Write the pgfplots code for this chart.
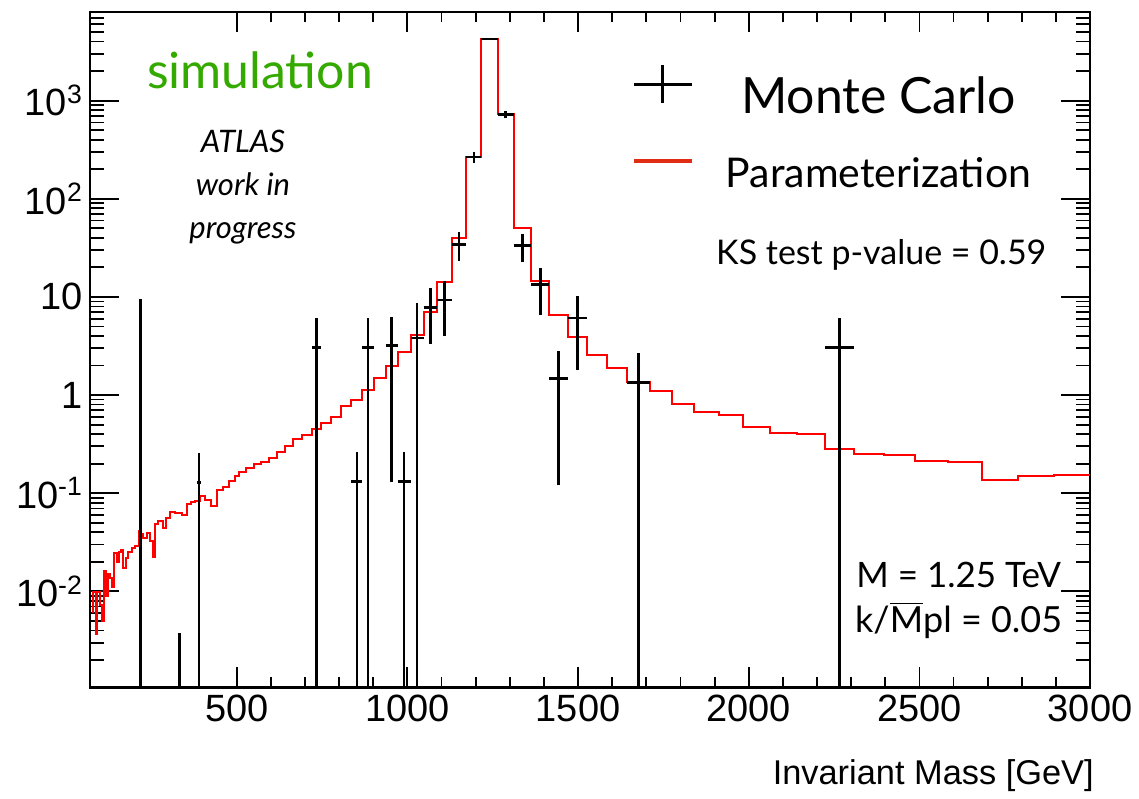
\documentclass[border=0pt]{standalone}
\usepackage{fontspec}
\setmainfont{Liberation Sans}
\newfontfamily\lato{Lato}
\usepackage{pgfplots}
\pgfplotsset{compat=1.18}
\usepackage{pgfplotstable}
\definecolor{simgreen}{RGB}{52,170,0}
\definecolor{legred}{RGB}{225,45,20}

% parameterization histogram: left bin edge, content
\pgfplotstableread{
x y
75 0.0062
79.8 0.0098
86.6 0.0037
91.5 0.0098
99.3 0.0073
106.1 0.005
111 0.0163
115.9 0.0089
121.7 0.0149
128.5 0.0137
135.4 0.011
141.2 0.0247
150 0.0198
154.9 0.025
159.8 0.0267
167.6 0.0173
174.4 0.0219
182.2 0.0253
192 0.0278
201.7 0.0289
214.4 0.041
219.3 0.038
226.1 0.0347
235.9 0.0395
245.6 0.0325
255.4 0.0223
260.3 0.0488
270 0.052
282.7 0.0444
292.5 0.056
304.2 0.0647
318.8 0.0623
338.3 0.0598
353 0.077
365.7 0.082
377.4 0.083
392 0.0935
406.6 0.0845
424.2 0.074
443.7 0.107
460.3 0.116
476.9 0.133
494.5 0.15
506 0.165
528 0.18
550 0.2
572 0.21
594 0.23
617 0.26
640 0.30
664 0.355
692.7 0.39
720.8 0.456
748.3 0.525
775.5 0.604
804.8 0.77
836.1 0.89
868.3 1.12
901.4 1.49
936.5 2.0
971.6 2.77
1009.7 4.13
1047.8 6.98
1086.7 14.1
1130.6 39.7
1172.8 267
1216.7 4230
1264.4 724
1311.2 50.7
1363 14.5
1415.7 6.6
1469.3 3.94
1527 2.54
1583.5 1.9
1643.8 1.36
1709.4 1.09
1773.8 0.82
1838.2 0.67
1913.4 0.62
1984.6 0.475
2062.7 0.41
2141.4 0.40
2224.3 0.285
2308 0.253
2396.7 0.244
2487.8 0.213
2584.6 0.206
2683.6 0.137
2787.5 0.15
2895 0.154
3000 0.154
}\histtable

% Monte Carlo: horizontal bars (bin extent at content)
\pgfplotstableread{
x y
215 4.75
223 4.75
nan nan
328 0.0019
338 0.0019
nan nan
383 0.128
395 0.128
nan nan
720.8 3.06
748.3 3.06
nan nan
836.1 0.131
868.3 0.131
nan nan
868.3 3.06
901.4 3.06
nan nan
936.5 3.18
971.6 3.18
nan nan
971.6 0.131
1009.7 0.131
nan nan
1009.7 3.82
1047.8 3.82
nan nan
1047.8 7.85
1086.7 7.85
nan nan
1086.7 9.33
1130.6 9.33
nan nan
1130.6 34.3
1172.8 34.3
nan nan
1172.8 267
1216.7 267
nan nan
1216.7 4230
1264.4 4230
nan nan
1264.4 718
1311.2 718
nan nan
1311.2 33.3
1363 33.3
nan nan
1363 13.4
1415.7 13.4
nan nan
1415.7 1.47
1469.3 1.47
nan nan
1469.3 6.1
1527 6.1
nan nan
1643.8 1.35
1709.4 1.35
nan nan
2224.3 3.06
2308 3.06
}\mchbar

% Monte Carlo: vertical error bars (lower, upper)
\pgfplotstableread{
x y
219 0.0001
219 9.5
nan nan
333 0.0001
333 0.0038
nan nan
389 0.0001
389 0.256
nan nan
734.5 0.0001
734.5 6.07
nan nan
852.2 0.0001
852.2 0.262
nan nan
884.9 0.0001
884.9 6.07
nan nan
954 0.13
954 6.28
nan nan
990.6 0.0001
990.6 0.262
nan nan
1028.7 0.0001
1028.7 8.63
nan nan
1067.2 3.31
1067.2 12.4
nan nan
1108.6 3.97
1108.6 14.7
nan nan
1151.7 23.2
1151.7 45.5
nan nan
1194.7 232
1194.7 299
nan nan
1240.5 4165
1240.5 4295
nan nan
1287.8 658
1287.8 788
nan nan
1337.1 22.5
1337.1 44.2
nan nan
1389.3 6.5
1389.3 19.8
nan nan
1442.5 0.12
1442.5 2.79
nan nan
1498.1 1.8
1498.1 10.3
nan nan
1676.6 0.0001
1676.6 2.66
nan nan
2266.1 0.0001
2266.1 6.1
}\mcvbar

\begin{document}
\begin{tikzpicture}
\begin{axis}[
  name=main,
  scale only axis, width=500.5pt, height=338pt,
  xmin=70, xmax=3000,
  ymode=log, ymin=1.05e-3, ymax=8000,
  unbounded coords=jump,
  xtick={500,1000,1500,2000,2500,3000},
  xticklabels={500,1000,1500,2000,2500,3000},
  minor x tick num=4,
  ytick={0.01,0.1,1,10,100,1000},
  yticklabels={10\textsuperscript{-2},10\textsuperscript{-1},1,10,10\textsuperscript{2},10\textsuperscript{3}},
  minor ytick={0.002,0.003,0.004,0.005,0.006,0.007,0.008,0.009,
    0.02,0.03,0.04,0.05,0.06,0.07,0.08,0.09,
    0.2,0.3,0.4,0.5,0.6,0.7,0.8,0.9,
    2,3,4,5,6,7,8,9,20,30,40,50,60,70,80,90,
    200,300,400,500,600,700,800,900,2000,3000,4000,5000,6000,7000},
  xtick pos=both, ytick pos=both,
  tick label style={font=\fontsize{19}{22}\selectfont},
  major tick length=10pt, minor tick length=5pt,
  ytick style={/pgfplots/major tick length=14.5pt, /pgfplots/minor tick length=7pt},
  every tick/.style={black, line width=0.9pt},
  axis line style={line width=1.3pt},
  xlabel={Invariant Mass [GeV]},
  xlabel style={at={(rel axis cs:1,0)}, anchor=north east, yshift=-36pt, xshift=2pt,
    inner sep=0pt, font=\fontsize{17.2}{20}\selectfont},
  legend style={at={(rel axis cs:0.5415,0.924)}, anchor=north west, draw=none, fill=none,
    inner sep=0pt, font=\lato\fontsize{20.5}{26}\selectfont, row sep=10pt,
    nodes={inner sep=2pt, text height=17pt, text depth=6pt},
    /tikz/every odd column/.append style={column sep=14pt}},
  legend cell align=center,
]
\addlegendimage{legend image code/.code={\draw[black,line width=1.5pt] (0pt,9pt)--(29pt,9pt) (14.5pt,-0.5pt)--(14.5pt,18.5pt);}}
\addlegendentry{\fontsize{25}{26}\selectfont Monte Carlo}
\addlegendimage{legend image code/.code={\draw[legred,line width=2pt] (0pt,7.5pt)--(29pt,7.5pt);}}
\addlegendentry{Parameterization}

\addplot[draw=red, line width=1pt, const plot, mark=none, forget plot] table[x=x, y=y] {\histtable};
\addplot[draw=black, line width=1.3pt, mark=none, forget plot] table[x=x, y=y] {\mchbar};
\addplot[draw=black, line width=1.3pt, mark=none, forget plot] table[x=x, y=y] {\mcvbar};

\node[font=\lato\fontsize{25}{30}\selectfont, text=simgreen] at (rel axis cs:0.17,0.914) {simulation};
\node[font=\lato\itshape\fontsize{15.5}{21.5}\selectfont, align=center] at (rel axis cs:0.153,0.741) {ATLAS\\work in\\progress};
\node[font=\lato\fontsize{17}{20}\selectfont] at (rel axis cs:0.7912,0.6405) {KS test p-value = 0.59};
\node[font=\lato\fontsize{17.5}{22}\selectfont] at (rel axis cs:0.8686,0.166) {M = 1.25 TeV};
\node[font=\lato\fontsize{18}{22}\selectfont] at (rel axis cs:0.8686,0.099) {k/$\overline{\hbox{M}}$pl = 0.05};
\end{axis}
\path ([xshift=-45pt,yshift=-55.5pt]main.south west) rectangle ([xshift=24pt,yshift=6pt]main.north east);
\end{tikzpicture}
\end{document}
